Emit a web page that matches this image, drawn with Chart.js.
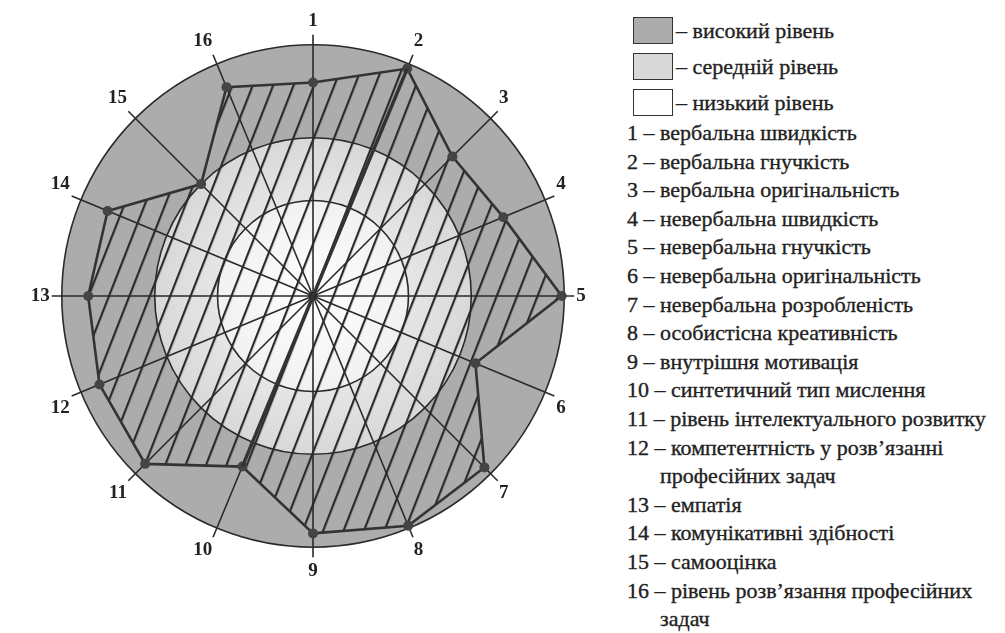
<!DOCTYPE html>
<html lang="uk">
<head>
<meta charset="utf-8">
<script src="https://cdn.jsdelivr.net/npm/chart.js@4.4.1/dist/chart.umd.min.js"></script>
<style>
    html, body { margin: 0; padding: 0; background: #fff; }
    body { width: 1005px; height: 633px; position: relative; overflow: hidden; font-family: "Liberation Serif", "DejaVu Serif", serif; color: #222; }
    #chartBox { position: absolute; left: 23px; top: 10px; width: 572px; height: 572px; }
    .key { position: absolute; left: 633px; width: 38px; height: 25px; border: 1.5px solid #333; box-sizing: content-box; }
    .keyText { position: absolute; left: 676px; font-size: 22px; line-height: 28px; white-space: nowrap; -webkit-text-stroke: 0.35px #222; }
    #items { position: absolute; left: 627px; top: 119px; font-size: 22px; line-height: 28.6px; white-space: nowrap; -webkit-text-stroke: 0.35px #222; }
    #items .cont { padding-left: 33px; }
</style>
</head>
<body>
<div id="chartBox"><canvas id="radar"></canvas></div>
<div id="legend"></div>
<div id="items"></div>

<script>
// axes of the profile
const axisLabels = ['1', '2', '3', '4', '5', '6', '7', '8', '9', '10', '11', '12', '13', '14', '15', '16'];
const axisNames = [
    'вербальна швидкість',
    'вербальна гнучкість',
    'вербальна оригінальність',
    'невербальна швидкість',
    'невербальна гнучкість',
    'невербальна оригінальність',
    'невербальна розробленість',
    'особистісна креативність',
    'внутрішня мотивація',
    'синтетичний тип мислення',
    'рівень інтелектуального розвитку',
    'компетентність у розв’язанні\nпрофесійних задач',
    'емпатія',
    'комунікативні здібності',
    'самооцінка',
    'рівень розв’язання професійних\nзадач'
];
// profile values, 0..10 scale
const profileValues = [8.5, 9.8, 7.85, 8.2, 9.9, 7.0, 9.65, 9.9, 9.45, 7.35, 9.45, 9.2, 8.95, 8.85, 6.3, 9.0];
// level zones: low up to 3.8, medium up to 6.3, high up to 10
const levelBounds = [3.8, 6.3, 10];
const levelNames = ['високий рівень', 'середній рівень', 'низький рівень'];

const zoneColors = ['#fbfbfb', '#d8d8d8', '#acacac'];
const hatchGap = 19;
const hatchAngle = 21.4;

// legend on the right
const legend = document.getElementById('legend');
const keyFill = ['#acacac', '#d8d8d8', '#ffffff'];
levelNames.forEach((name, i) => {
    const top = 17 + i * 36;
    legend.insertAdjacentHTML('beforeend',
        `<div class="key" style="top:${top}px;background:${keyFill[i]}"></div>` +
        `<div class="keyText" style="top:${top}px">– ${name}</div>`);
});
const items = document.getElementById('items');
axisNames.forEach((name, i) => {
    name.split('\n').forEach((line, j) => {
        items.insertAdjacentHTML('beforeend',
            j === 0 ? `<div>${axisLabels[i]} – ${line}</div>` : `<div class="cont">${line}</div>`);
    });
});

const canvas = document.getElementById('radar');
const c2d = canvas.getContext('2d');

const tile = document.createElement('canvas');
tile.width = hatchGap;
tile.height = 4;
const tctx = tile.getContext('2d');
tctx.fillStyle = '#2a2a2a';
tctx.fillRect(0, 0, 2.2, 4);
const hatch = c2d.createPattern(tile, 'repeat');

const zonesPlugin = {
    id: 'zones',
    beforeDraw(chart) {
        const r = chart.scales.r;
        const c = chart.ctx;
        c.save();
        for (let i = levelBounds.length - 1; i >= 0; i--) {
            const rad = r.getDistanceFromCenterForValue(levelBounds[i]);
            const g = c.createRadialGradient(r.xCenter, r.yCenter, 0, r.xCenter, r.yCenter, rad);
            if (i === 0) {
                g.addColorStop(0, '#ffffff');
                g.addColorStop(1, '#f1f1f1');
            } else if (i === 1) {
                g.addColorStop(0.6, '#e6e6e6');
                g.addColorStop(1, zoneColors[1]);
            } else {
                g.addColorStop(0, zoneColors[2]);
                g.addColorStop(1, zoneColors[2]);
            }
            c.beginPath();
            c.arc(r.xCenter, r.yCenter, rad, 0, Math.PI * 2);
            c.fillStyle = g;
            c.fill();
        }
        c.restore();
    },
    beforeDatasetsDraw(chart) {
        const r = chart.scales.r;
        const c = chart.ctx;
        c.save();
        c.strokeStyle = '#2a2a2a';
        c.lineWidth = 1.6;
        c.beginPath();
        for (let i = 0; i < axisLabels.length; i++) {
            const p = r.getPointPosition(i, r.drawingArea + 10);
            c.moveTo(r.xCenter, r.yCenter);
            c.lineTo(p.x, p.y);
        }
        c.stroke();
        c.restore();
        hatch.setTransform(new DOMMatrix().translate(r.xCenter, r.yCenter).rotate(hatchAngle).translate(-1, 0));
    },
    afterDatasetsDraw(chart) {
        // the heavier stroke running 2 -> 10 through the centre
        const pts = chart.getDatasetMeta(0).data;
        const c = chart.ctx;
        c.save();
        c.strokeStyle = '#333';
        c.lineWidth = 3.5;
        c.beginPath();
        c.moveTo(pts[1].x, pts[1].y);
        c.lineTo(pts[9].x, pts[9].y);
        c.stroke();
        c.restore();
    }
};

new Chart(canvas, {
    type: 'radar',
    data: {
        labels: axisLabels,
        datasets: [{
            data: profileValues,
            fill: true,
            backgroundColor: hatch,
            borderColor: '#333',
            borderWidth: 2.6,
            pointRadius: 5,
            pointBackgroundColor: '#444',
            pointBorderWidth: 0,
            tension: 0
        }]
    },
    options: {
        responsive: true,
        maintainAspectRatio: false,
        animation: false,
        plugins: { legend: { display: false }, tooltip: { enabled: false } },
        scales: {
            r: {
                min: 0,
                max: 10,
                startAngle: 0,
                afterBuildTicks: s => { s.ticks = [0, ...levelBounds].map(v => ({ value: v })); },
                ticks: { display: false },
                grid: { circular: true, color: '#2a2a2a', lineWidth: 1.6 },
                angleLines: { display: false },
                pointLabels: {
                    color: '#222',
                    padding: 12,
                    font: { family: 'Liberation Serif', size: 19, weight: 'bold' }
                }
            }
        }
    },
    plugins: [zonesPlugin]
});
</script>
</body>
</html>
